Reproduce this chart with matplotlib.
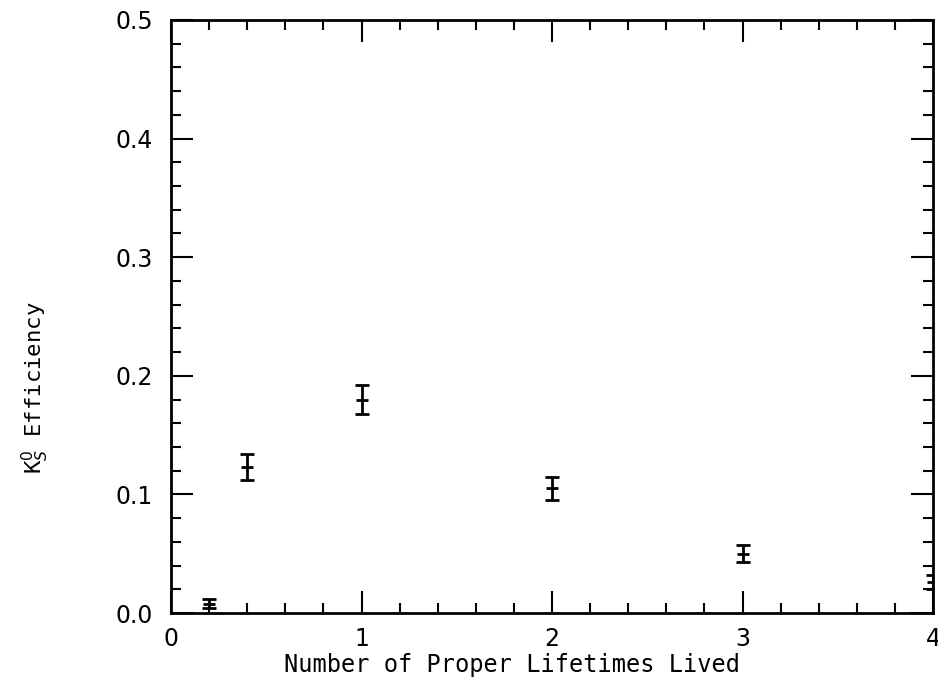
import matplotlib
matplotlib.use("Agg")
import matplotlib.pyplot as plt
from matplotlib.ticker import MultipleLocator

lifetimes = [0.2, 0.4, 1.0, 2.0, 3.0, 4.0]
efficiency = [0.008, 0.123, 0.180, 0.105, 0.050, 0.026]
eff_err = [0.004, 0.011, 0.012, 0.010, 0.007, 0.006]
xticks = [0, 1, 2, 3, 4]
yticks = [0.0, 0.1, 0.2, 0.3, 0.4, 0.5]

fig = plt.figure(figsize=(9.38, 6.80), dpi=100)
ax = fig.add_axes([0.1823, 0.0985, 0.8124, 0.8721])

ax.errorbar(lifetimes, efficiency, yerr=eff_err, fmt='_', color='black',
            markersize=9, markeredgewidth=2.0, elinewidth=2.0,
            capsize=5, capthick=2.0, clip_on=True)

ax.set_xlim(0, 4)
ax.set_ylim(0, 0.5)
ax.set_xticks(xticks)
ax.set_xticklabels([str(v) for v in xticks])
ax.set_yticks(yticks)
ax.set_yticklabels([f"{v:.1f}" for v in yticks])
ax.xaxis.set_minor_locator(MultipleLocator(0.2))
ax.yaxis.set_minor_locator(MultipleLocator(0.02))

ax.tick_params(which='both', direction='in', top=True, right=True,
               width=1.5, colors='black')
ax.tick_params(which='major', length=16, labelsize=17, pad=10)
ax.tick_params(axis='y', which='major', pad=13)
ax.tick_params(which='minor', length=7)
for s in ax.spines.values():
    s.set_linewidth(2.0)

mono = 'DejaVu Sans Mono'
for lab in ax.get_xticklabels() + ax.get_yticklabels():
    lab.set_fontfamily('DejaVu Sans')

ax.set_xlabel("Number of Proper Lifetimes Lived", fontsize=17, family=mono)
ax.xaxis.set_label_coords(0.447, -0.068)
ax.set_ylabel(r"K$^0_S$ Efficiency", fontsize=16, family=mono)
ax.yaxis.set_label_coords(-0.158, 0.38)

fig.savefig("out.png", dpi=100)
